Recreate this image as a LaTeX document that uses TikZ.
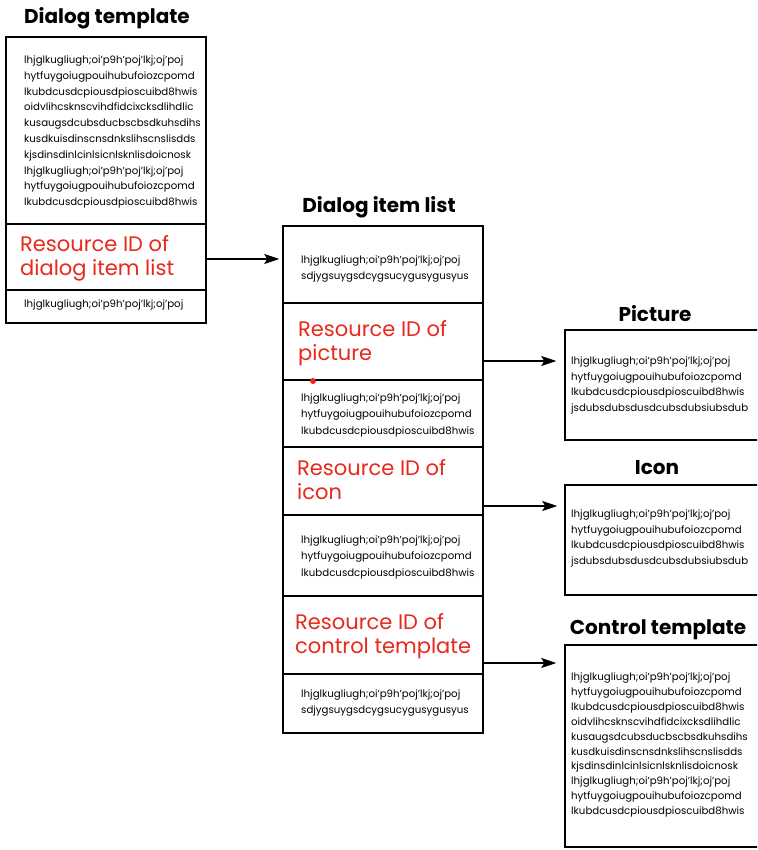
\documentclass[tikz,border=0pt]{standalone}
\usepackage{fontspec}
\setmainfont{Poppins}
\usetikzlibrary{arrows.meta}
\definecolor{rid}{RGB}{232,40,28}
\begin{document}
\begin{tikzpicture}[x=1pt,y=-1pt,
  sec/.style={draw, line width=1.5pt, inner sep=0pt, minimum width=200pt},
  rsec/.style={draw, line width=1.5pt, inner sep=0pt, minimum width=205pt},
  body/.style={anchor=west, inner sep=0pt, align=left, font=\fontsize{10.2}{16}\selectfont},
  ridtext/.style={anchor=west, inner sep=0pt, align=left, text=rid, font=\fontsize{21}{24}\selectfont},
  title/.style={inner sep=0pt, font=\bfseries\fontsize{20}{22}\selectfont},
  arr/.style={-{Stealth[length=15pt,width=10pt,inset=3pt]}, line width=1.3pt}]
\useasboundingbox (0,0) rectangle (757,850);
\clip (0,0) rectangle (757,850);
\fill[white] (0,0) rectangle (757,850);

% Dialog template
\node[title] (hdt) at (107,18) {Dialog template};
\node[sec, minimum height=187pt] (dt1) at (106,130.5) {};
\node[sec, minimum height=66pt] (dt2) at (106,257) {};
\node[sec, minimum height=33pt] (dt3) at (106,306.5) {};
\node[body, font=\fontsize{10.2}{15.8}\selectfont] (tdt1) at (24,132) {lhjglkugliugh;oi'p9h'poj'lkj;oj'poj\\hytfuygoiugpouihubufoiozcpomd\\lkubdcusdcpiousdpioscuibd8hwis\\oidvlihcsknscvihdfidcixcksdlihdlic\\kusaugsdcubsducbscbsdkuhsdihs\\kusdkuisdinscnsdnkslihscnslisdds\\kjsdinsdinlcinlsicnlsknlisdoicnosk\\lhjglkugliugh;oi'p9h'poj'lkj;oj'poj\\hytfuygoiugpouihubufoiozcpomd\\lkubdcusdcpiousdpioscuibd8hwis};
\node[ridtext] (rdt) at (20,258) {Resource ID of\\dialog item list};
\node[body] (tdt3) at (24,305) {lhjglkugliugh;oi'p9h'poj'lkj;oj'poj};

% Dialog item list
\node[title] (hdil) at (379,207) {Dialog item list};
\node[sec, minimum height=77pt] (d1) at (383,264.5) {};
\node[sec, minimum height=77pt] (d2) at (383,341.5) {};
\node[sec, minimum height=67pt] (d3) at (383,413.5) {};
\node[sec, minimum height=68pt] (d4) at (383,481) {};
\node[sec, minimum height=81pt] (d5) at (383,555.5) {};
\node[sec, minimum height=78pt] (d6) at (383,635) {};
\node[sec, minimum height=59pt] (d7) at (383,703.5) {};
\node[body] (td1) at (301,269) {lhjglkugliugh;oi'p9h'poj'lkj;oj'poj\\sdjygsuygsdcygsucygusygusyus};
\node[ridtext] (rd2) at (298,343.5) {Resource ID of\\picture};
\node[body, font=\fontsize{10.2}{16.5}\selectfont] (td3) at (301,415) {lhjglkugliugh;oi'p9h'poj'lkj;oj'poj\\hytfuygoiugpouihubufoiozcpomd\\lkubdcusdcpiousdpioscuibd8hwis};
\node[ridtext] (rd4) at (297,480) {Resource ID of\\icon};
\node[body, font=\fontsize{10.2}{16.5}\selectfont] (td5) at (301,557) {lhjglkugliugh;oi'p9h'poj'lkj;oj'poj\\hytfuygoiugpouihubufoiozcpomd\\lkubdcusdcpiousdpioscuibd8hwis};
\node[ridtext] (rd6) at (295,636.5) {Resource ID of\\control template};
\node[body] (td7) at (301,703) {lhjglkugliugh;oi'p9h'poj'lkj;oj'poj\\sdjygsuygsdcygsucygusygusyus};
\node[circle, fill=rid, inner sep=0pt, minimum size=6pt] (dot) at (313,381) {};

% Right-hand boxes
\node[title] (hpic) at (655,314) {Picture};
\node[rsec, minimum height=110pt] (pic) at (667.5,385) {};
\node[body, font=\fontsize{10.2}{15.7}\selectfont] (tpic) at (571,385.5) {lhjglkugliugh;oi'p9h'poj'lkj;oj'poj\\hytfuygoiugpouihubufoiozcpomd\\lkubdcusdcpiousdpioscuibd8hwis\\jsdubsdubsdusdcubsdubsiubsdub};

\node[title] (hicon) at (657,468) {Icon};
\node[rsec, minimum height=110pt] (icon) at (667.5,540) {};
\node[body, font=\fontsize{10.2}{15.7}\selectfont] (ticon) at (571,538.5) {lhjglkugliugh;oi'p9h'poj'lkj;oj'poj\\hytfuygoiugpouihubufoiozcpomd\\lkubdcusdcpiousdpioscuibd8hwis\\jsdubsdubsdusdcubsdubsiubsdub};

\node[title] (hctl) at (658,630) {Control template};
\node[rsec, minimum height=202pt] (ctl) at (667.5,746) {};
\node[body, font=\fontsize{10.2}{14.9}\selectfont] (tctl) at (571,745) {lhjglkugliugh;oi'p9h'poj'lkj;oj'poj\\hytfuygoiugpouihubufoiozcpomd\\lkubdcusdcpiousdpioscuibd8hwis\\oidvlihcsknscvihdfidcixcksdlihdlic\\kusaugsdcubsducbscbsdkuhsdihs\\kusdkuisdinscnsdnkslihscnslisdds\\kjsdinsdinlcinlsicnlsknlisdoicnosk\\lhjglkugliugh;oi'p9h'poj'lkj;oj'poj\\hytfuygoiugpouihubufoiozcpomd\\lkubdcusdcpiousdpioscuibd8hwis};

% Connectors
\draw[arr, shorten >=3pt] ([yshift=-2pt]dt2.east) -- ([yshift=-2pt]dt2.east -| d1.west);
\draw[arr, shorten >=8pt] ([yshift=-19.5pt]d2.east) -- ([yshift=-19.5pt]d2.east -| pic.west);
\draw[arr, shorten >=7pt] ([yshift=-25pt]d4.east) -- ([yshift=-25pt]d4.east -| icon.west);
\draw[arr, shorten >=8pt] ([yshift=-28pt]d6.east) -- ([yshift=-28pt]d6.east -| ctl.west);
\end{tikzpicture}
\end{document}
